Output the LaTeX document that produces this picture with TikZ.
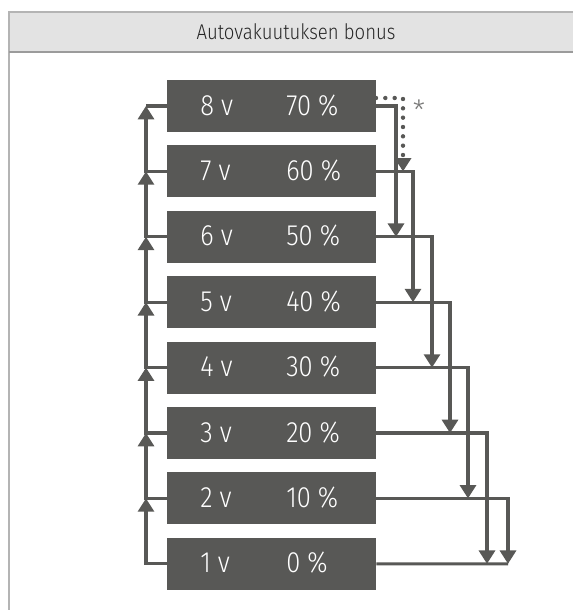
\documentclass[tikz,border=0pt]{standalone}
\usepackage{fontspec}
\setmainfont{Fira Sans}[UprightFont={* Light}]
\newfontfamily\dinf{Fira Sans}[UprightFont={* Light}, FakeStretch=0.87]
\usetikzlibrary{arrows.meta}
\definecolor{dg}{RGB}{88,88,86}
\definecolor{hdrfill}{RGB}{227,227,227}
\definecolor{frameline}{RGB}{180,180,180}
\definecolor{hdrline}{RGB}{155,155,155}
\tikzset{
  x=0.75pt, y=-0.75pt,
  boxnode/.style={fill=dg, draw=none, minimum width=157pt, minimum height=39pt, inner sep=0pt},
  lbl/.style={text=white, anchor=base west, inner sep=0pt, font=\dinf\fontsize{22}{22}\selectfont},
  conn/.style={draw=dg, line width=2.3pt},
  arr/.style={conn, -{Triangle[width=12pt,length=10pt]}},
  dotarr/.style={draw=dg, line width=3.3pt, line cap=round, dash pattern=on 0pt off 7pt,
     -{Triangle[width=12pt,length=10pt]}},
}
\begin{document}
\begin{tikzpicture}
\useasboundingbox (0,0) rectangle (573,610);
% frame and header
\fill[white] (0,0) rectangle (573,610);
\draw[frameline, line width=1.2pt] (9,640) -- (9,12) -- (640,12);
\fill[hdrfill] (9.6,12.6) rectangle (640,52);
\draw[hdrline, line width=1.5pt] (9,52) -- (640,52);
\node[font=\dinf\fontsize{16}{16}\selectfont, text=black!85, anchor=base, inner sep=0pt] (title) at (296,40) {Autovakuutuksen bonus};
% boxes
\foreach \k/\p in {8/70,7/60,6/50,5/40,4/30,3/20,2/10,1/0}{
  \pgfmathsetmacro{\yy}{106+(8-\k)*65.4}
  \node[boxnode] (b\k) at (271.5,\yy) {};
  \node[lbl] (v\k) at (200,\yy+9) {\k\ v};
  \node[lbl] (p\k) at (286,\yy+9) {\p\ \%};
  \coordinate (L\k) at (146,\yy);
}
% right column coordinates
\foreach \from/\to/\xx in {8/6/396,7/5/413,6/4/432,5/3/450,4/2/468,3/1/487,2/1/508}{
  \pgfmathsetmacro{\yy}{106+(8-\to)*65.4}
  \coordinate (R\from) at (\xx,\yy);
}
\coordinate (E1) at (508,563.8);
\coordinate (D0) at (376,98);
\coordinate (D1) at (403,98);
\coordinate (D2) at (403,171.4);
% left connectors
\foreach \k [evaluate=\k as \kn using int(\k+1)] in {1,...,7}{
  \draw[arr] (b\k.west) -- (L\k) -- (L\kn);
}
\draw[conn] (L8) -- (b8.west);
% right connectors
\foreach \k in {8,7,6,5,4,3,2}{
  \draw[arr] (b\k.east) -| (R\k);
}
\draw[conn] (b1.east) -- (E1);
% dotted
\draw[dotarr] (D0) -- (D1) -- (D2);
\node[text=dg!80, font=\fontsize{21}{21}\selectfont, anchor=base, inner sep=0pt] (ast) at (419,120) {*};
\end{tikzpicture}
\end{document}
